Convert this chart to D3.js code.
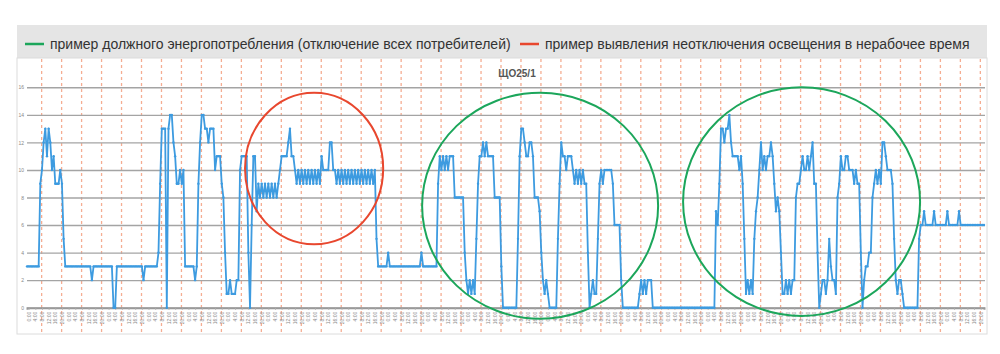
<!DOCTYPE html>
<html>
<head>
<meta charset="utf-8">
<script src="https://cdn.jsdelivr.net/npm/d3@7"></script>
<style>
  body { margin: 0; background: #fff; }
  svg { display: block; font-family: "Liberation Sans", Arial, sans-serif; }
</style>
</head>
<body>
<svg id="chart" width="1000" height="354"></svg>
<script>
// Hourly consumption of ЩО25/1, 24 values per day, split by weeks (6 days each)
const week1 = [
  3,3,3,3,3,3,3,3,9,10,12,13,11,13,12,10,11,9,9,9,10,9,5,3,
  3,3,3,3,3,3,3,3,3,3,3,3,3,3,3,2,3,3,3,3,3,3,3,3,
  3,3,3,3,0,0,3,3,3,3,3,3,3,3,3,3,3,3,3,3,3,3,2,3,
  3,3,3,3,3,3,3,4,9,13,13,13,0,13,14,14,12,11,9,9,10,9,10,3,
  3,3,3,3,3,2,3,9,12,14,14,13,13,12,13,13,13,10,11,11,11,9,8,4,
  1,1,2,1,1,1,2,2,10,11,11,11,11,4,0,6,11,11,7,9,8,9,8,9
];
const week2 = [
  8,9,8,9,8,9,8,9,10,11,11,11,11,12,13,11,11,10,9,10,9,10,9,10,
  9,10,9,10,9,10,9,10,9,11,10,10,10,10,12,12,10,10,9,10,9,10,9,10,
  9,10,9,10,9,10,9,10,9,10,9,10,9,10,9,10,9,10,5,3,3,3,3,3,
  3,4,3,3,3,3,3,3,3,3,3,3,3,3,3,3,3,3,3,3,3,4,3,3,
  3,3,3,3,3,3,3,9,11,10,11,10,11,10,11,11,11,8,8,8,8,8,8,4,
  2,1,2,1,2,1,5,9,11,11,12,11,12,11,11,11,11,8,8,8,8,3,0,0
];
const week3 = [
  0,0,0,0,0,0,0,5,11,13,13,12,11,11,12,12,11,8,8,8,7,4,2,1,
  2,1,0,0,0,0,0,5,9,12,11,11,10,11,11,11,10,9,10,9,10,9,10,9,
  9,4,0,1,2,1,1,5,9,10,9,10,10,10,10,10,9,6,6,6,6,2,0,0,
  0,0,0,0,0,0,0,0,1,2,1,2,1,2,2,2,0,0,0,0,0,0,0,0,
  0,0,0,0,0,0,0,0,0,0,0,0,0,0,0,0,0,0,0,0,0,0,0,0,
  0,0,0,0,0,0,7,6,9,13,13,12,13,13,14,12,11,11,11,11,10,11,9,5
];
const week4 = [
  1,2,1,2,1,5,7,8,10,12,10,11,10,11,11,12,11,9,7,8,7,4,1,1,
  2,1,2,1,2,2,8,9,9,10,11,10,10,11,10,11,12,9,9,4,0,1,2,2,
  1,2,5,3,2,2,1,8,9,11,10,10,11,11,10,10,10,9,10,9,9,4,0,2,
  3,3,4,4,8,9,10,9,10,9,12,12,11,10,10,10,9,5,2,1,2,2,1,0,
  0,0,0,0,0,0,0,0,5,6,6,7,6,6,6,6,6,7,6,6,6,6,6,6,
  6,7,6,6,6,6,6,6,7,6,6,6,6,6,6,6,6,6,6,6,6,6,6,6
];
const yTicks = [0, 2, 4, 6, 8, 10, 12, 14, 16];
const hourLabels = ["0:00", "4:00", "8:00", "12:00", "16:00", "20:00"];
const legendItems = [
  { text: "пример должного энергопотребления (отключение всех потребителей)", color: "#1ca65b" },
  { text: "пример выявления неотключения освещения в нерабочее время", color: "#e8472e" }
];
const chartTitle = "ЩО25/1";

// annotation rings, in data units (hour index / kW)
const rings = [
  { cx: 172.5, cy: 10.1, rx: 41.5, ry: 5.5, color: "#e8472e" },
  { cx: 308.3, cy: 7.4, rx: 70.9, ry: 8.2, color: "#1ca65b" },
  { cx: 465.4, cy: 7.7, rx: 71.2, ry: 8.3, color: "#1ca65b" }
];

const series = [...week1, ...week2, ...week3, ...week4];

const svg = d3.select("#chart");

const x = d3.scaleLinear().domain([0, series.length - 1]).range([27, 984]);
const y = d3.scaleLinear().domain([0, 16]).range([307.7, 87.3]);

// legend band
svg.append("rect")
  .attr("x", 17).attr("y", 25).attr("width", 970).attr("height", 33)
  .attr("fill", "#e5e5e5");

const legendX = [25, 520];
legendItems.forEach((d, k) => {
  svg.append("line")
    .attr("x1", legendX[k]).attr("x2", legendX[k] + 19)
    .attr("y1", 44).attr("y2", 44)
    .attr("stroke", d.color).attr("stroke-width", 2.5);
  svg.append("text")
    .attr("x", legendX[k] + 25).attr("y", 49)
    .attr("font-size", 14).attr("fill", "#333")
    .text(d.text);
});

// chart frame
svg.append("rect")
  .attr("x", 17).attr("y", 58).attr("width", 970).attr("height", 276)
  .attr("fill", "#fff").attr("stroke", "#dcdcdc");

// dashed day/shift separators
const sepIdx = d3.range(48).map(k => 8.8 + 12 * k);
svg.append("g")
  .selectAll("line")
  .data(sepIdx)
  .join("line")
  .attr("x1", d => x(d)).attr("x2", d => x(d))
  .attr("y1", 59).attr("y2", 333)
  .attr("stroke", "#f5ad92")
  .attr("stroke-width", 1.3)
  .attr("stroke-dasharray", "3,3");

// y axis with gridlines
svg.append("g")
  .attr("transform", `translate(${x(0)},0)`)
  .call(d3.axisLeft(y).tickValues(yTicks).tickSize(-(x.range()[1] - x.range()[0] + 1)).tickPadding(3))
  .call(g => g.select(".domain").remove())
  .call(g => g.selectAll(".tick line").attr("stroke", "#a4a4a4").attr("stroke-width", 1.4))
  .call(g => g.selectAll(".tick text").attr("font-size", 5).attr("fill", "#888"));

// x axis
const labelIdx = d3.range(0, series.length, 4).map(i => i + 1);
svg.append("g")
  .attr("transform", `translate(0,${y(0)})`)
  .call(d3.axisBottom(x).tickValues(labelIdx).tickSize(2)
    .tickFormat((d, k) => hourLabels[k % hourLabels.length]))
  .call(g => g.select(".domain").attr("stroke", "#999").attr("stroke-width", 2))
  .call(g => g.selectAll(".tick line").attr("stroke", "#aaa"))
  .call(g => g.selectAll(".tick text")
    .attr("font-size", 5).attr("fill", "#8a8a8a")
    .attr("transform", "rotate(-90)")
    .attr("x", -4).attr("y", 0).attr("dy", "0.32em")
    .style("text-anchor", "end"));

// title
svg.append("text")
  .attr("x", 517).attr("y", 77)
  .attr("text-anchor", "middle")
  .attr("font-size", 10).attr("font-weight", "bold").attr("fill", "#555")
  .text(chartTitle);

// series
const line = d3.line()
  .x((d, i) => x(i))
  .y(d => y(d));

svg.append("path")
  .datum(series)
  .attr("fill", "none")
  .attr("stroke", "#3d9be0")
  .attr("stroke-width", 1.8)
  .attr("stroke-linejoin", "round")
  .attr("d", line);

svg.append("g")
  .selectAll("circle")
  .data(series)
  .join("circle")
  .attr("cx", (d, i) => x(i))
  .attr("cy", d => y(d))
  .attr("r", 1.2)
  .attr("fill", "#3d9be0");

// annotation rings
svg.append("g")
  .selectAll("ellipse")
  .data(rings)
  .join("ellipse")
  .attr("cx", d => x(d.cx))
  .attr("cy", d => y(d.cy))
  .attr("rx", d => x(d.rx) - x(0))
  .attr("ry", d => y(0) - y(d.ry))
  .attr("fill", "none")
  .attr("stroke", d => d.color)
  .attr("stroke-width", 2);
</script>
</body>
</html>
